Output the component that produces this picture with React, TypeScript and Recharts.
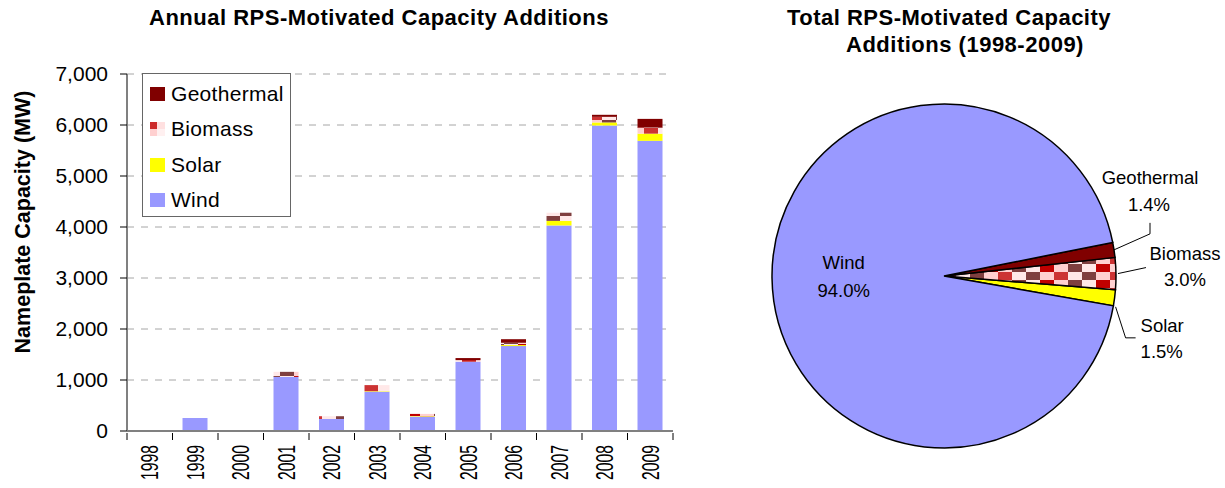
import React from "react";
import { BarChart, Bar, XAxis, YAxis, CartesianGrid, PieChart, Pie, Cell } from "recharts";

const FONT = '"Liberation Sans", Arial, sans-serif';

// Annual additions (MW)
const years = ["1998", "1999", "2000", "2001", "2002", "2003", "2004", "2005", "2006", "2007", "2008", "2009"];
const wind = [0, 255, 0, 1060, 235, 770, 280, 1360, 1665, 4030, 5990, 5690];
const solar = [0, 0, 0, 0, 0, 10, 10, 0, 20, 90, 60, 140];
const biomass = [0, 0, 20, 100, 55, 120, 45, 30, 45, 160, 110, 120];
const geothermal = [0, 0, 0, 0, 0, 0, 0, 40, 70, 0, 40, 170];
const yTicks = [0, 1000, 2000, 3000, 4000, 5000, 6000, 7000];

// Totals 1998-2009 (%)
const pieNames = ["Solar", "Biomass", "Geothermal", "Wind"];
const pieShares = [1.5, 3.0, 1.4, 94.0];

const legendItems = ["Geothermal", "Biomass", "Solar", "Wind"];

const COLORS: Record<string, string> = {
  Wind: "#9999ff",
  Solar: "#ffff00",
  Biomass: "url(#bioPattern)",
  Geothermal: "#800000",
};

const rows = years.map((year, i) => ({
  year,
  wind: wind[i],
  solar: solar[i],
  biomass: biomass[i],
  geothermal: geothermal[i],
}));

const pieData = pieNames.map((name, i) => ({ name, value: pieShares[i] }));

// checkered fill used for biomass (Excel pattern look)
const BioPattern = ({ id }: { id: string }) => (
  <defs>
    <pattern id={id} patternUnits="userSpaceOnUse" width={56} height={16}>
      <rect x={0} y={0} width={14} height={8} fill="#7f3f3f" />
      <rect x={14} y={0} width={14} height={8} fill="#ffd0d0" />
      <rect x={28} y={0} width={14} height={8} fill="#cc3333" />
      <rect x={42} y={0} width={14} height={8} fill="#ffe8e8" />
      <rect x={0} y={8} width={14} height={8} fill="#ffe8e8" />
      <rect x={14} y={8} width={14} height={8} fill="#c00000" />
      <rect x={28} y={8} width={14} height={8} fill="#ffd0d0" />
      <rect x={42} y={8} width={14} height={8} fill="#7f3f3f" />
    </pattern>
  </defs>
);

const YearTick = (props: any) => {
  const { x, y, payload, index } = props;
  const half = payload && typeof payload.offset === "number" && payload.offset > 0 ? payload.offset : 22.75;
  return (
    <g>
      <line x1={x - half} y1={y} x2={x - half} y2={y + 7} stroke="#000" />
      {index === years.length - 1 && <line x1={x + half} y1={y} x2={x + half} y2={y + 7} stroke="#000" />}
      <text
        transform={`translate(${x},${y + 12}) rotate(-90)`}
        textAnchor="end"
        dy="0.36em"
        fontSize={23}
        fontFamily={FONT}
        fill="#000"
        textLength={35}
        lengthAdjust="spacingAndGlyphs"
      >
        {payload.value}
      </text>
    </g>
  );
};

// label placement for the small slices, relative to the slice's outer edge
const pieLabelLayout: Record<string, any> = {
  Geothermal: { line: [[0, 0], [36, -16], [36, -27]], text: [36, -72], text2: [35, -45], anchor: "middle" },
  Biomass: { line: [[2, 0], [30, -6]], text: [69, -20], text2: [69, 6], anchor: "middle" },
  Solar: { line: [[1, 9], [11, 40], [21, 40]], text: [26, 28], text2: [26, 54], anchor: "start" },
};

const renderPieLabel = (p: any) => {
  const { cx, cy, midAngle, outerRadius, index } = p;
  const RAD = Math.PI / 180;
  const name = pieNames[index];
  const pct = pieShares[index].toFixed(1) + "%";
  const textStyle = { fontSize: 18.5, fontFamily: FONT, fill: "#000" };
  if (name === "Wind") {
    const r = outerRadius * 0.56;
    const lx = cx + r * Math.cos(-midAngle * RAD);
    const ly = cy + r * Math.sin(-midAngle * RAD);
    return (
      <g>
        <text x={lx - 4} y={ly - 15} textAnchor="middle" dy="0.35em" {...textStyle}>{name}</text>
        <text x={lx - 4} y={ly + 13} textAnchor="middle" dy="0.35em" {...textStyle}>{pct}</text>
      </g>
    );
  }
  const ex = cx + outerRadius * Math.cos(-midAngle * RAD);
  const ey = cy + outerRadius * Math.sin(-midAngle * RAD);
  const lay = pieLabelLayout[name];
  const pts = lay.line.map((d: number[]) => `${ex + d[0]},${ey + d[1]}`).join(" ");
  return (
    <g>
      <polyline points={pts} fill="none" stroke="#000" strokeWidth={1} />
      <text x={ex + lay.text[0]} y={ey + lay.text[1]} textAnchor={lay.anchor} dy="0.35em" {...textStyle}>{name}</text>
      <text x={ex + lay.text2[0]} y={ey + lay.text2[1]} textAnchor={lay.anchor} dy="0.35em" {...textStyle}>{pct}</text>
    </g>
  );
};

const Swatch = ({ name }: { name: string }) => {
  if (name === "Biomass") {
    return (
      <div style={{ width: 15, height: 14, display: "grid", gridTemplateColumns: "7px 8px", gridTemplateRows: "7px 7px" }}>
        <div style={{ background: "#cc2a2a" }} />
        <div style={{ background: "#ffe0e0" }} />
        <div style={{ background: "#ffd0d0" }} />
        <div style={{ background: "#fff0f0" }} />
      </div>
    );
  }
  return <div style={{ width: 15, height: 14, background: COLORS[name] }} />;
};

const titleStyle: React.CSSProperties = {
  position: "absolute",
  textAlign: "center",
  fontSize: 22,
  fontWeight: "bold",
  lineHeight: "26px",
  letterSpacing: 0.5,
  whiteSpace: "nowrap",
};

export default function App() {
  return (
    <div style={{ position: "absolute", left: 0, top: 0, width: 1225, height: 488, background: "#fff", fontFamily: FONT, overflow: "hidden" }}>
      <div style={{ ...titleStyle, left: 0, top: 5, width: 758 }}>Annual RPS-Motivated Capacity Additions</div>
      <div style={{ ...titleStyle, left: 749, top: 5, width: 400 }}>Total RPS-Motivated Capacity</div>
      <div style={{ ...titleStyle, left: 765, top: 32, width: 400 }}>Additions (1998-2009)</div>
      <div
        style={{
          position: "absolute",
          left: 23,
          top: 222,
          transform: "translate(-50%, -50%) rotate(-90deg)",
          whiteSpace: "nowrap",
          fontSize: 21.5,
          fontWeight: "bold",
        }}
      >
        Nameplate Capacity (MW)
      </div>

      <div style={{ position: "absolute", left: 0, top: 0 }}>
        <BarChart width={690} height={488} data={rows} margin={{ top: 74, right: 17, bottom: 0, left: 0 }} barCategoryGap="22%">
          <BioPattern id="bioPattern" />
          <CartesianGrid vertical={false} stroke="#a6a6a6" strokeDasharray="7 7" />
          <XAxis
            dataKey="year"
            height={57}
            interval={0}
            tickLine={false}
            tickSize={0}
            tick={<YearTick />}
            axisLine={{ stroke: "#808080", strokeWidth: 2 }}
          />
          <YAxis
            width={127}
            domain={[0, 7000]}
            ticks={yTicks}
            interval={0}
            tickFormatter={(v: number) => v.toLocaleString("en-US")}
            tickSize={7}
            tickMargin={12}
            tick={{ fill: "#000", fontSize: 21, fontFamily: FONT }}
            tickLine={{ stroke: "#000" }}
            axisLine={{ stroke: "#808080", strokeWidth: 2 }}
          />
          <Bar dataKey="wind" stackId="a" fill={COLORS.Wind} isAnimationActive={false} />
          <Bar dataKey="solar" stackId="a" fill={COLORS.Solar} isAnimationActive={false} />
          <Bar dataKey="biomass" stackId="a" fill={COLORS.Biomass} isAnimationActive={false} />
          <Bar dataKey="geothermal" stackId="a" fill={COLORS.Geothermal} isAnimationActive={false} />
        </BarChart>
      </div>

      {/* legend box over the grid */}
      <div
        style={{
          position: "absolute",
          left: 142,
          top: 73,
          width: 147,
          height: 140,
          border: "1px solid #666",
          background: "#fff",
          paddingTop: 2,
          boxSizing: "content-box",
        }}
      >
        {legendItems.map((name) => (
          <div key={name} style={{ display: "flex", alignItems: "center", height: 35.5, paddingLeft: 7 }}>
            <Swatch name={name} />
            <span style={{ marginLeft: 6, fontSize: 21, letterSpacing: 0.3, color: "#000" }}>{name}</span>
          </div>
        ))}
      </div>

      <div style={{ position: "absolute", left: 690, top: 0 }}>
        <PieChart width={535} height={488}>
          <BioPattern id="bioPatternPie" />
          <Pie
            data={pieData}
            dataKey="value"
            nameKey="name"
            cx={249}
            cy={271}
            outerRadius={172}
            startAngle={-10}
            endAngle={350}
            stroke="#000"
            strokeWidth={1.5}
            label={renderPieLabel}
            labelLine={false}
            isAnimationActive={false}
          >
            {pieData.map((d) => (
              <Cell key={d.name} fill={d.name === "Biomass" ? "url(#bioPatternPie)" : COLORS[d.name]} />
            ))}
          </Pie>
        </PieChart>
      </div>
    </div>
  );
}
